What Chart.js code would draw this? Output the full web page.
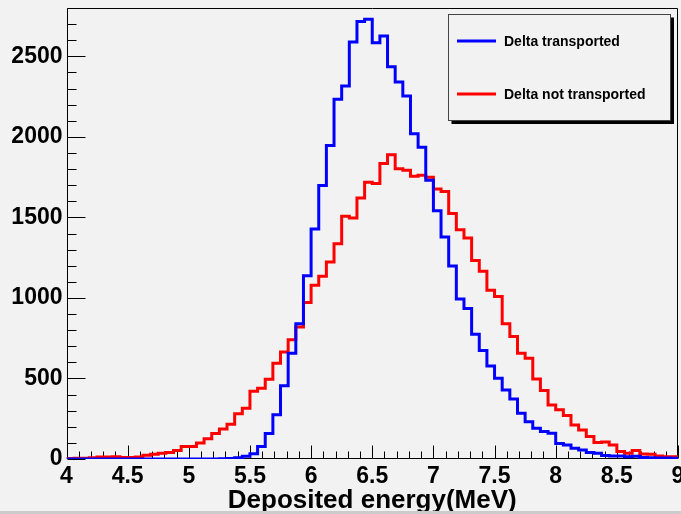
<!DOCTYPE html>
<html>
<head>
<meta charset="utf-8">
<title>Deposited energy</title>
<script src="https://cdn.jsdelivr.net/npm/chart.js@4.4.1/dist/chart.umd.min.js"></script>
<style>
  html, body { margin: 0; padding: 0; background: #f2f2f2; }
  canvas { display: block; }
</style>
</head>
<body>
<canvas id="chart" width="681" height="514"></canvas>
<script>
// Binning: 80 bins of 0.0625 MeV between 4 and 9 MeV
const binStart = 4;
const binWidth = 0.0625;

// Entries per bin
const deltaTransported = [
    0, 0, 0, 0, 0, 0, 0, 0, 0, 0,
    0, 0, 0, 0, 0, 0, 0, 0, 0, 0,
    1, 3, 8, 17, 32, 77, 158, 274, 454, 657,
    840, 1138, 1428, 1698, 1947, 2233, 2315, 2589, 2716, 2730,
    2585, 2626, 2436, 2340, 2253, 2019, 1936, 1730, 1542, 1379,
    1198, 993, 935, 775, 674, 578, 502, 429, 373, 284,
    232, 191, 170, 160, 97, 87, 66, 56, 40, 35,
    21, 19, 19, 14, 17, 10, 8, 6, 6, 5
];
const deltaNotTransported = [
    3, 5, 4, 8, 12, 12, 14, 10, 10, 12,
    23, 29, 35, 41, 52, 77, 77, 100, 126, 158,
    186, 216, 281, 315, 420, 440, 495, 595, 664, 740,
    820, 972, 1078, 1134, 1223, 1337, 1507, 1497, 1621, 1718,
    1710, 1835, 1889, 1802, 1793, 1756, 1762, 1750, 1677, 1660,
    1524, 1424, 1372, 1233, 1165, 1047, 1009, 840, 761, 657,
    626, 497, 425, 336, 305, 270, 211, 180, 139, 102,
    106, 87, 46, 35, 52, 31, 29, 19, 14, 14
];

const seriesLabels = ['Delta transported', 'Delta not transported'];
const xTickValues = [4, 4.5, 5, 5.5, 6, 6.5, 7, 7.5, 8, 8.5, 9];
const xTickLabels = ['4', '4.5', '5', '5.5', '6', '6.5', '7', '7.5', '8', '8.5', '9'];
const yTickValues = [0, 500, 1000, 1500, 2000, 2500];
const yTickLabels = ['0', '500', '1000', '1500', '2000', '2500'];

let chart = null;

Chart.defaults.font.family = "'Liberation Sans', Arial, Helvetica, sans-serif";
Chart.defaults.color = '#000';

// Turn bin counts into step points at the bin edges (last edge closes the final bin)
function histogramPoints(counts) {
    const points = counts.map((c, i) => ({ x: binStart + i * binWidth, y: c }));
    points.push({ x: binStart + counts.length * binWidth, y: counts[counts.length - 1] });
    return points;
}

// Frame around the plot area with inward ticks, ROOT style
const framePlugin = {
    id: 'frame',
    beforeDatasetsDraw(chart) {
        const { ctx, chartArea: a, scales: { x, y } } = chart;
        const L = Math.round(a.left) + 0.5, R = Math.round(a.right) - 0.5;
        const T = Math.round(a.top) + 0.5, B = Math.round(a.bottom) - 0.5;
        ctx.save();
        ctx.strokeStyle = '#000';
        ctx.lineWidth = 1;
        ctx.beginPath();
        ctx.rect(L, T, R - L, B - T);
        // x ticks every 0.1, longer every 0.5
        for (let k = 0; k <= 50; k++) {
            const px = Math.round(x.getPixelForValue(4 + k * 0.1)) + 0.5;
            const len = k % 5 === 0 ? 13 : 7;
            ctx.moveTo(px, B);
            ctx.lineTo(px, B - len);
        }
        // y ticks every 100, longer every 500
        for (let v = 0; v <= 2800; v += 100) {
            const py = Math.round(y.getPixelForValue(v)) + 0.5;
            const len = v % 500 === 0 ? 18 : 9;
            ctx.moveTo(L, py);
            ctx.lineTo(L + len, py);
        }
        ctx.stroke();
        ctx.restore();
    }
};

// Boxed legend with a drop shadow in the top right corner
const legendBoxPlugin = {
    id: 'legendBox',
    afterDraw(chart) {
        const ctx = chart.ctx;
        const box = { left: 448.5, top: 14.5, right: 670.5, bottom: 120.5 };
        const w = box.right - box.left, h = box.bottom - box.top;
        ctx.save();
        ctx.fillStyle = '#000';
        ctx.fillRect(box.left + 3, box.top + 3, w + 0.5, h + 0.5);
        ctx.fillStyle = '#f2f2f2';
        ctx.fillRect(box.left, box.top, w, h);
        ctx.strokeStyle = '#444';
        ctx.lineWidth = 1;
        ctx.strokeRect(box.left, box.top, w, h);

        ctx.font = "bold 14px 'Liberation Sans', Arial, sans-serif";
        ctx.textBaseline = 'middle';
        ctx.textAlign = 'left';
        const rows = [41, 94];
        chart.data.datasets.forEach((ds, i) => {
            const yy = rows[i];
            ctx.strokeStyle = ds.borderColor;
            ctx.lineWidth = 3;
            ctx.beginPath();
            ctx.moveTo(457, yy);
            ctx.lineTo(496, yy);
            ctx.stroke();
            ctx.fillStyle = '#000';
            ctx.fillText(ds.label, 504, yy + 1);
        });

        // canvas bottom edge
        ctx.fillStyle = '#cbcbcb';
        ctx.fillRect(0, 511, chart.width, 3);
        ctx.restore();
    }
};

function displayChart() {
    const ctx = document.getElementById('chart').getContext('2d');
    if (chart) {
        chart.destroy();
    }
    chart = new Chart(ctx, {
        type: 'line',
        data: {
            datasets: [
                {
                    label: seriesLabels[0],
                    data: histogramPoints(deltaTransported),
                    borderColor: '#0000ff',
                    borderWidth: 3,
                    stepped: true,
                    fill: false,
                    pointRadius: 0
                },
                {
                    label: seriesLabels[1],
                    data: histogramPoints(deltaNotTransported),
                    borderColor: '#ff0000',
                    borderWidth: 3,
                    stepped: true,
                    fill: false,
                    pointRadius: 0
                }
            ]
        },
        options: {
            responsive: false,
            devicePixelRatio: 1,
            animation: false,
            layout: {
                autoPadding: false,
                padding: { top: 8, right: 3, left: 0, bottom: 0 }
            },
            scales: {
                x: {
                    type: 'linear',
                    min: 4,
                    max: 9,
                    grid: { display: false, drawTicks: false },
                    border: { display: false },
                    afterBuildTicks: scale => {
                        scale.ticks = xTickValues.map(v => ({ value: v }));
                    },
                    afterFit: scale => {
                        scale.height = 55;
                        scale.paddingLeft = 0;
                        scale.paddingRight = 0;
                    },
                    ticks: {
                        autoSkip: false,
                        maxRotation: 0,
                        padding: 4,
                        color: '#000',
                        font: { size: 23, weight: 'bold' },
                        callback: (value, index) => xTickLabels[index]
                    },
                    title: {
                        display: true,
                        text: 'Deposited energy(MeV)',
                        color: '#000',
                        font: { size: 26, weight: 'bold', lineHeight: 1.05 },
                        padding: { top: 0, bottom: 0 }
                    }
                },
                y: {
                    min: 0,
                    max: 2800,
                    grid: { display: false, drawTicks: false },
                    border: { display: false },
                    afterBuildTicks: scale => {
                        scale.ticks = yTickValues.map(v => ({ value: v }));
                    },
                    afterFit: scale => {
                        scale.width = 66.5;
                        scale.paddingTop = 0;
                        scale.paddingBottom = 0;
                    },
                    ticks: {
                        padding: 4,
                        color: '#000',
                        font: { size: 23, weight: 'bold' },
                        callback: (value, index) => yTickLabels[index]
                    }
                }
            },
            plugins: {
                legend: { display: false },
                tooltip: { enabled: false }
            }
        },
        plugins: [framePlugin, legendBoxPlugin]
    });
}

displayChart();
</script>
</body>
</html>
